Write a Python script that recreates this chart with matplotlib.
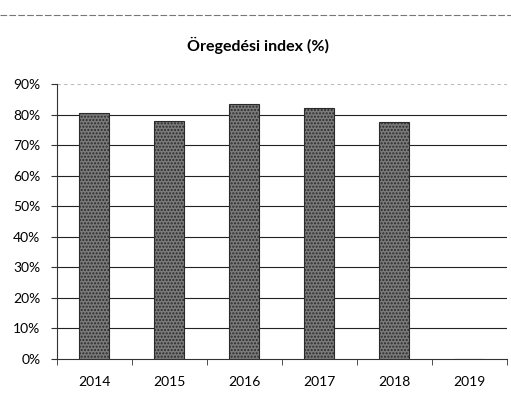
import matplotlib.pyplot as plt
import numpy as np
from matplotlib.lines import Line2D

evek = ['2014', '2015', '2016', '2017', '2018', '2019']
index = [80.5, 78.0, 83.5, 82.3, 77.7, np.nan]
yticks = list(range(0, 91, 10))

plt.rcParams['font.family'] = ['Lato', 'DejaVu Sans']

fig = plt.figure(figsize=(5.11, 4.0), dpi=100)
ax = fig.add_axes([0.1115, 0.1025, 0.8805, 0.6865])

x = np.arange(len(evek))
ax.bar(x, np.nan_to_num(index), width=0.4, color='#7a7a7a', edgecolor='#2a2a2a',
       hatch='.....', linewidth=0.8, zorder=3)

for t in yticks[1:]:
    ax.axhline(t, color='#222222' if t < 90 else '#bbbbbb', lw=0.8,
               ls='-' if t < 90 else (0, (3, 3)), zorder=1)

ax.set_xlim(-0.5, len(evek) - 0.5)
ax.set_ylim(0, 90)
ax.set_yticks(yticks)
ax.set_yticklabels([f'{t}%' for t in yticks], fontsize=10)
ax.set_xticks(x)
ax.set_xticklabels(evek, fontsize=10)
ax.set_xticks(np.arange(len(evek) + 1) - 0.5, minor=True)
ax.tick_params(axis='x', which='major', length=0, pad=12)
ax.tick_params(axis='x', which='minor', length=4, color='#333333')
ax.tick_params(axis='y', length=4, color='#333333', pad=8)

for s in ['top', 'right']:
    ax.spines[s].set_visible(False)
ax.spines['left'].set_color('#333333')
ax.spines['bottom'].set_color('#333333')

fig.text(0.505, 0.8875, 'Öregedési index (%)', ha='center', va='center',
         fontsize=11.5, fontweight='bold')
fig.add_artist(Line2D([0.0, 1.0], [0.962, 0.962], color='#777777', lw=0.8,
                      ls=(0, (6, 2)), transform=fig.transFigure))

fig.savefig('out.png', dpi=100)
